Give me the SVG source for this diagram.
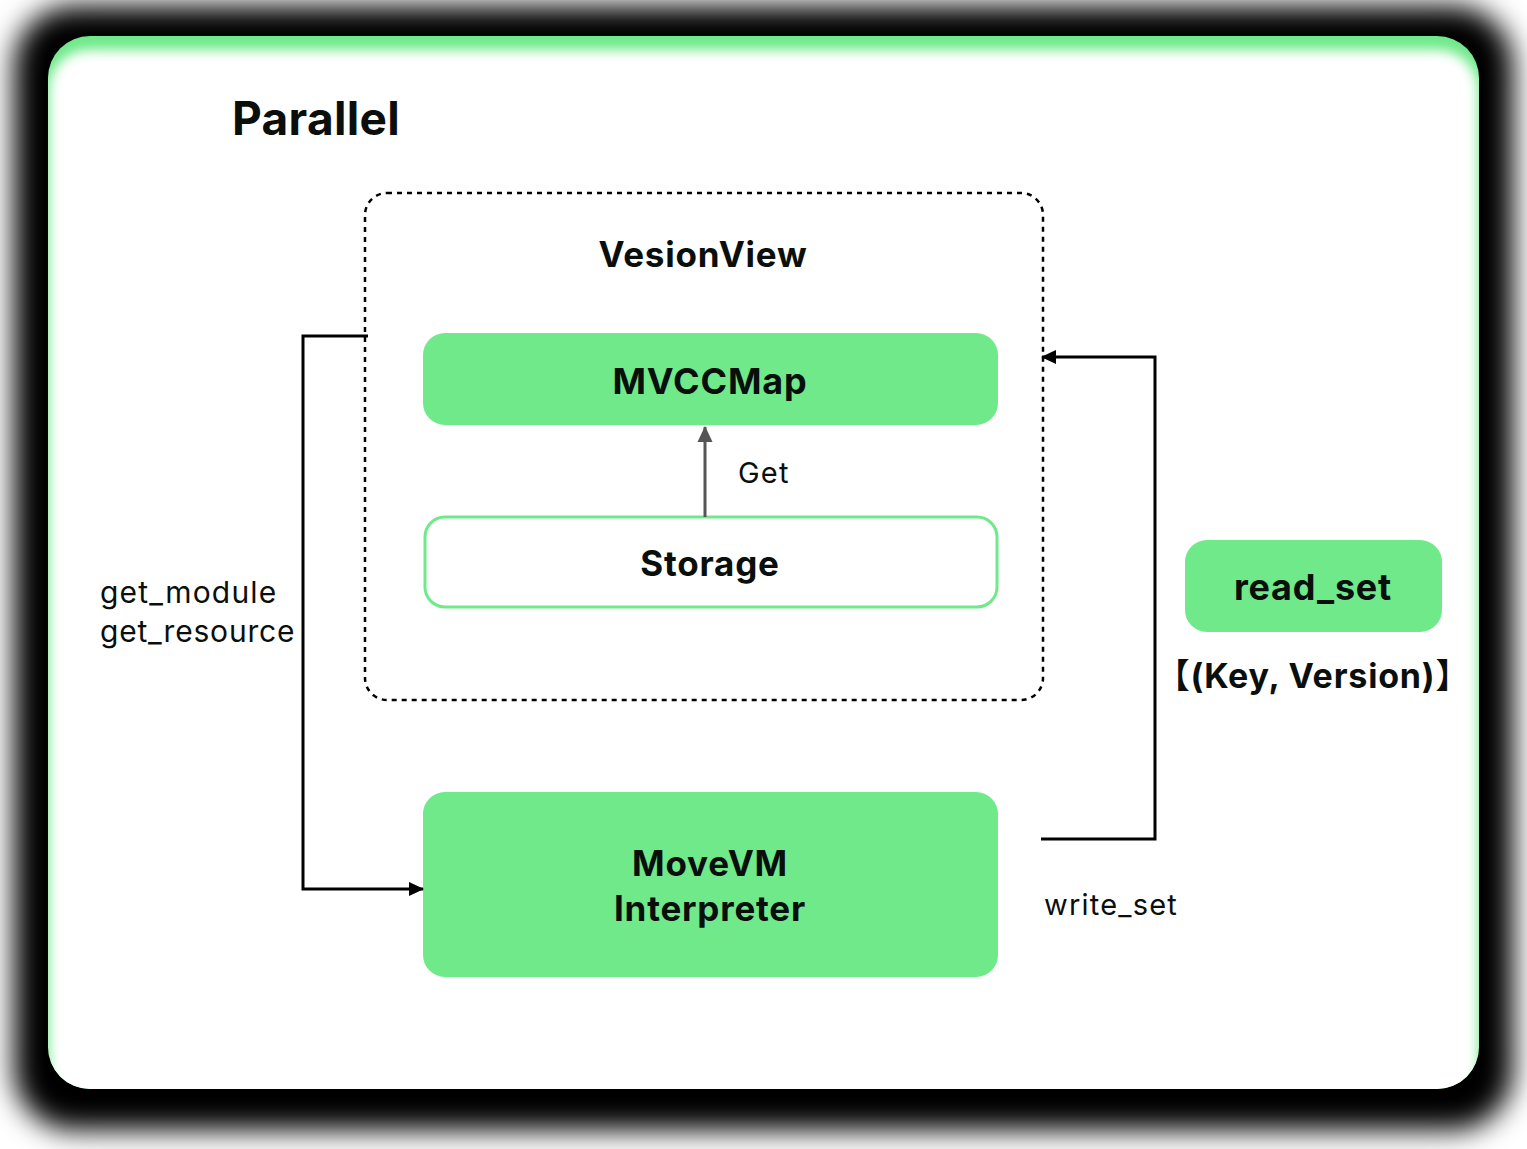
<svg xmlns="http://www.w3.org/2000/svg" width="1527" height="1149" viewBox="0 0 1527 1149">
<defs>
<style>
.t{font-family:Inter,"Noto Sans","Noto Sans CJK SC",sans-serif;fill:#0a0f0c}
.b{font-weight:700;letter-spacing:0.8px}
.r{letter-spacing:1.2px}
.g{fill:#6FE98A}
.ln{fill:none;stroke:#000;stroke-width:3}
</style>
<filter id="sh" x="-10%" y="-10%" width="120%" height="120%"><feGaussianBlur stdDeviation="14"/></filter>
<filter id="gl" x="-10%" y="-10%" width="120%" height="120%"><feGaussianBlur stdDeviation="6"/></filter>
<clipPath id="cc"><rect x="48" y="36" width="1431" height="1053" rx="42"/></clipPath>
<marker id="ab" markerWidth="15" markerHeight="15" refX="14" refY="7.5" orient="auto" markerUnits="userSpaceOnUse" viewBox="0 0 15 15"><path d="M0,0.5L15,7.5L0,14.5z" fill="#000"/></marker>
<marker id="ag" markerWidth="16" markerHeight="16" refX="15" refY="8" orient="auto" markerUnits="userSpaceOnUse" viewBox="0 0 16 16"><path d="M0,0.5L16,8L0,15.5z" fill="#555"/></marker>
</defs>
<rect width="1527" height="1149" fill="#fff"/>
<rect x="14" y="6" width="1499" height="1124" rx="60" fill="#000" filter="url(#sh)"/>
<g id="card">
<g clip-path="url(#cc)">
<rect x="48" y="36" width="1431" height="1053" fill="#6FE98A"/>
<rect x="49" y="50" width="1429" height="1100" rx="40" fill="#fff" filter="url(#gl)"/>
</g>
</g>
<text id="title" class="t" x="232" y="135" font-size="46" font-weight="700" letter-spacing="0.3">Parallel</text>
<g id="versionview">
<rect x="365" y="193" width="678" height="507" rx="22" fill="none" stroke="#000" stroke-width="2.5" stroke-dasharray="5 5"/>
<text class="t b" x="703" y="267" font-size="35" text-anchor="middle">VesionView</text>
</g>
<g id="mvccmap">
<rect class="g" x="423" y="333" width="575" height="92" rx="22"/>
<text class="t b" x="710" y="394" font-size="36" text-anchor="middle">MVCCMap</text>
</g>
<g id="storage">
<rect x="425" y="517" width="572" height="90" rx="20" fill="#fff" stroke="#6FE98A" stroke-width="3"/>
<text class="t b" x="710" y="576" font-size="35" text-anchor="middle">Storage</text>
</g>
<g id="movevm">
<rect class="g" x="423" y="792" width="575" height="185" rx="22"/>
<text class="t b" x="710" y="876" font-size="35" text-anchor="middle">MoveVM</text>
<text class="t b" x="710" y="921" font-size="35" text-anchor="middle">Interpreter</text>
</g>
<g id="readset">
<rect class="g" x="1185" y="540" width="257" height="92" rx="22"/>
<text class="t b" x="1313" y="600" font-size="36" text-anchor="middle">read_set</text>
<text class="t b" x="1313" y="688" font-size="34" text-anchor="middle">【(Key, Version)】</text>
</g>
<g id="connectors">
<path d="M705,517V427" fill="none" stroke="#555" stroke-width="3" marker-end="url(#ag)"/>
<path class="ln" d="M368,336H303V889H423" marker-end="url(#ab)"/>
<path class="ln" d="M1041,839H1155V357H1042" marker-end="url(#ab)"/>
<text class="t r" x="738" y="483" font-size="29">Get</text>
<text class="t r" x="100" y="603" font-size="30">get_module</text>
<text class="t" x="100" y="642" font-size="30" letter-spacing="0.8">get_resource</text>
<text class="t r" x="1044" y="915" font-size="29">write_set</text>
</g>
</svg>
